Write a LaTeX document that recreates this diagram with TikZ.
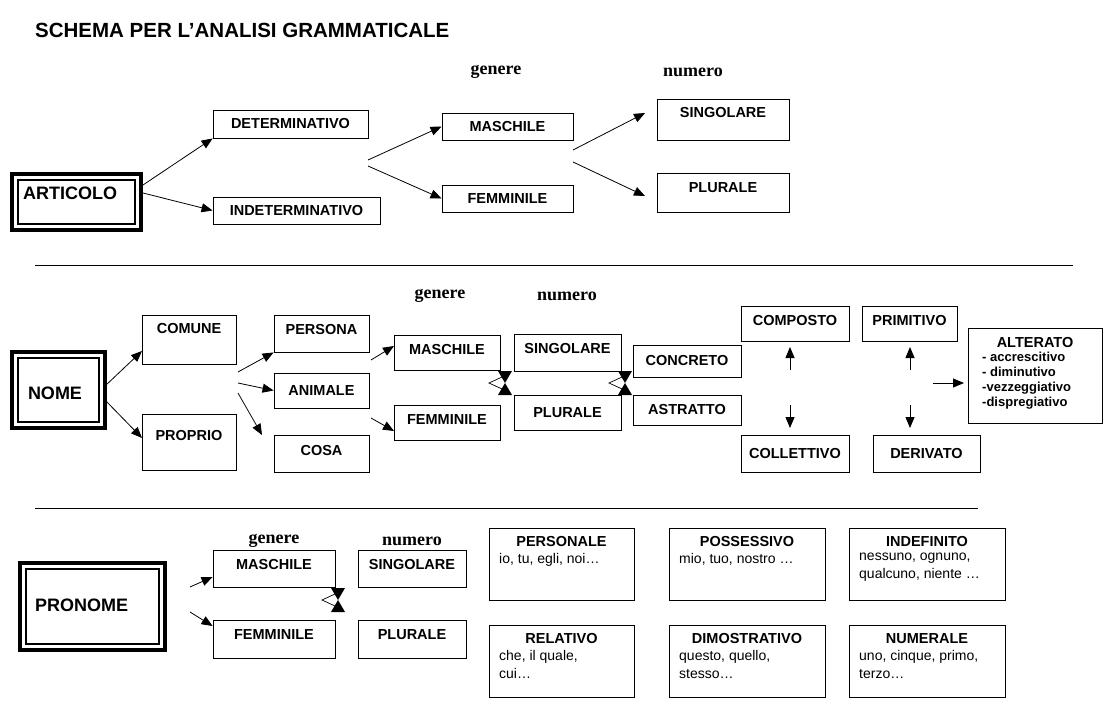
\documentclass[tikz,border=0pt]{standalone}
\usepackage{fontspec}
\setmainfont{Liberation Sans}
\newfontfamily\serifb{Liberation Serif}
\usetikzlibrary{arrows.meta}
\begin{document}
\begin{tikzpicture}[x=1pt,y=-1pt,
  box/.style={draw,line width=0.9pt,inner sep=0pt,font=\fontsize{14.5}{17}\selectfont\bfseries},
  tx/.style={inner sep=0pt,font=\fontsize{14.5}{17}\selectfont\bfseries},
  body/.style={inner sep=0pt,font=\fontsize{14}{18}\selectfont,align=left},
  hd/.style={inner sep=0pt,font=\serifb\fontsize{18}{20}\selectfont\bfseries},
  arr/.style={line width=0.8pt,-{Triangle[length=11pt,width=9pt]}},
  sep/.style={line width=0.9pt}]
\useasboundingbox (0,0) rectangle (1110,714);
\fill[white] (0,0) rectangle (1110,714);
\newcommand\bx[7][]{\pgfmathsetmacro\bw{#5-#3}\pgfmathsetmacro\bh{#6-#4}%
  \node[box,minimum width=\bw pt,minimum height=\bh pt,#1] (#2) at ({(#3+#5)/2},{(#4+#6)/2}) {#7};}
\newcommand\bigbx[5]{\draw[line width=4pt] (#2,#3) rectangle (#4,#5);
  \draw[line width=1.5pt] ({#2+6},{#3+6}) rectangle ({#4-6},{#5-6});
  \coordinate (#1) at ({(#2+#4)/2},{(#3+#5)/2});}
\newcommand\hg[4]{% name, x, y1, y2
  \pgfmathsetmacro\ym{(#3+#4)/2}
  \fill (#2-7,#3) -- (#2+7,#3) -- (#2,\ym) -- cycle;
  \fill (#2-7,#4) -- (#2+7,#4) -- (#2,\ym) -- cycle;
  \draw[line width=0.7pt] (#2-3,\ym-6) -- (#2-16,\ym) -- (#2-3,\ym+6);
  \coordinate (#1) at (#2,\ym);}
% title
\node[anchor=west,inner sep=0pt,font=\fontsize{20.5}{24}\selectfont\bfseries] (title) at (35,30) {SCHEMA PER L’ANALISI GRAMMATICALE};
% ARTICOLO
\bigbx{art}{12}{174}{141}{230}
\node[tx,anchor=west,font=\fontsize{18}{20}\selectfont\bfseries] (artt) at (23,193) {ARTICOLO};
\bx{det}{213}{110}{368}{138}{DETERMINATIVO}
\bx{ind}{213}{197}{380}{224}{INDETERMINATIVO}
\bx{m1}{442}{113}{573}{140}{MASCHILE}
\bx{f1}{442}{185}{573}{212}{FEMMINILE}
\bx[text depth=14pt]{s1}{657}{99}{789}{140}{SINGOLARE}
\bx[text depth=10pt]{p1}{657}{173}{789}{212}{PLURALE}
\node[hd] (g1) at (496,72) {genere};
\node[hd] (n1) at (693,72) {numero};
\coordinate (a1) at (143,185); \coordinate (a2) at (143,193);
\draw[arr] (a1) -- (det.south west);
\draw[arr] (a2) -- (ind.west);
\coordinate (b1) at (368,160); \coordinate (b2) at (368,166);
\draw[arr] (b1) -- (m1.west);
\draw[arr] (b2) -- (f1.west);
\coordinate (c1) at (573,150); \coordinate (c2) at (573,162);
\coordinate (c1e) at (645,113); \coordinate (c2e) at (645,196);
\draw[arr] (c1) -- (c1e);
\draw[arr] (c2) -- (c2e);
\draw[sep] (35,265) -- (1073,265);
% NOME
\bigbx{nome}{12}{352}{105}{428}
\node[tx,font=\fontsize{18}{20}\selectfont\bfseries] (nomet) at (55,393) {NOME};
\bx[text depth=22pt]{com}{142}{315}{236}{364}{COMUNE}
\bx[text depth=14pt]{pro}{142}{414}{236}{470}{PROPRIO}
\coordinate (d1) at (105,386); \coordinate (d2) at (105,400);
\draw[arr] (d1) -- (142,351);
\draw[arr] (d2) -- (142,438);
\bx[text depth=8pt]{pers}{274}{315}{369}{352}{PERSONA}
\bx{ani}{274}{373}{369}{408}{ANIMALE}
\bx[text depth=6pt]{cosa}{274}{435}{369}{472}{COSA}
\coordinate (e1) at (238,372); \coordinate (e2) at (238,383); \coordinate (e3) at (238,393);
\draw[arr] (e1) -- (pers.south west);
\draw[arr] (e2) -- (ani.west);
\coordinate (e3e) at (262,435);
\draw[arr] (e3) -- (e3e);
\node[hd] (g2) at (440,296) {genere};
\node[hd] (n2) at (567,296) {numero};
\bx[text depth=6pt]{m2}{394}{335}{500}{370}{MASCHILE}
\bx[text depth=6pt]{f2}{394}{405}{500}{440}{FEMMINILE}
\coordinate (h1) at (371,360); \coordinate (h2) at (371,418);
\draw[arr] (h1) -- (394,346);
\draw[arr] (h2) -- (394,431);
\bx[text depth=8pt]{s2}{514}{334}{621}{371}{SINGOLARE}
\bx{p2}{514}{395}{621}{430}{PLURALE}
\hg{hg1}{505}{371}{395}
\hg{hg2}{625}{371}{395}
\bx{conc}{633}{345}{741}{377}{CONCRETO}
\bx{astr}{633}{395}{741}{425}{ASTRATTO}
\bx[text depth=6pt]{compo}{741}{306}{849}{341}{COMPOSTO}
\bx{coll}{741}{435}{849}{472}{COLLETTIVO}
\bx[text depth=6pt]{prim}{862}{306}{957}{341}{PRIMITIVO}
\bx{der}{873}{435}{980}{472}{DERIVATO}
\coordinate (u1) at (790,370); \coordinate (u1e) at (790,347);
\coordinate (u2) at (790,405); \coordinate (u2e) at (790,428);
\coordinate (v1) at (910,370); \coordinate (v1e) at (910,347);
\coordinate (v2) at (910,405); \coordinate (v2e) at (910,428);
\draw[arr] (u1) -- (u1e); \draw[arr] (u2) -- (u2e);
\draw[arr] (v1) -- (v1e); \draw[arr] (v2) -- (v2e);
\draw[line width=0.9pt] (968,328) rectangle (1102,423);
\node[tx] (alt) at (1035,343) {ALTERATO};
\node[tx,anchor=north west,align=left,font=\fontsize{13}{15}\selectfont\bfseries] (altl) at (982,352) {- accrescitivo\\- diminutivo\\-vezzeggiativo\\-dispregiativo};
\coordinate (w1) at (933,383);
\draw[arr] (w1) -- (964,383);
\draw[sep] (35,508) -- (978,508);
% PRONOME
\bigbx{pron}{20}{563}{165}{650}
\node[tx,anchor=west,font=\fontsize{18}{20}\selectfont\bfseries] (pront) at (35,605) {PRONOME};
\node[hd] (g3) at (274,541) {genere};
\node[hd] (n3) at (412,541) {numero};
\bx[text depth=8pt]{m3}{213}{550}{335}{587}{MASCHILE}
\bx[text depth=8pt]{f3}{213}{620}{335}{658}{FEMMINILE}
\bx[text depth=8pt]{s3}{358}{550}{466}{587}{SINGOLARE}
\bx[text depth=8pt]{p3}{358}{620}{466}{658}{PLURALE}
\coordinate (k1) at (190,587); \coordinate (k2) at (190,612);
\draw[arr] (k1) -- (m3.west |- 0,577);
\draw[arr] (k2) -- (f3.west |- 0,626);
\hg{hg3}{338}{588}{612}
\newcommand\pb[5]{\draw[line width=0.9pt] (#2,#3) rectangle (#4,{#3+72});
  \node[tx] (#1t) at ({(#2+#4)/2},{#3+14}) {#5};}
\pb{pers}{489}{528}{634}{PERSONALE}
\node[body,anchor=north west] (persb) at (499,553) {io, tu, egli, noi…};
\pb{poss}{669}{528}{825}{POSSESSIVO}
\node[body,anchor=north west] (possb) at (679,553) {mio, tuo, nostro …};
\pb{inde}{849}{528}{1005}{INDEFINITO}
\node[body,anchor=north west] (indeb) at (859,553) {nessuno, ognuno,\\qualcuno, niente …};
\pb{rel}{489}{625}{634}{RELATIVO}
\node[body,anchor=north west] (relb) at (499,650) {che, il quale,\\cui…};
\pb{dim}{669}{625}{825}{DIMOSTRATIVO}
\node[body,anchor=north west] (dimb) at (679,650) {questo, quello,\\stesso…};
\pb{num}{849}{625}{1005}{NUMERALE}
\node[body,anchor=north west] (numb) at (859,650) {uno, cinque, primo,\\terzo…};
\end{tikzpicture}
\end{document}
